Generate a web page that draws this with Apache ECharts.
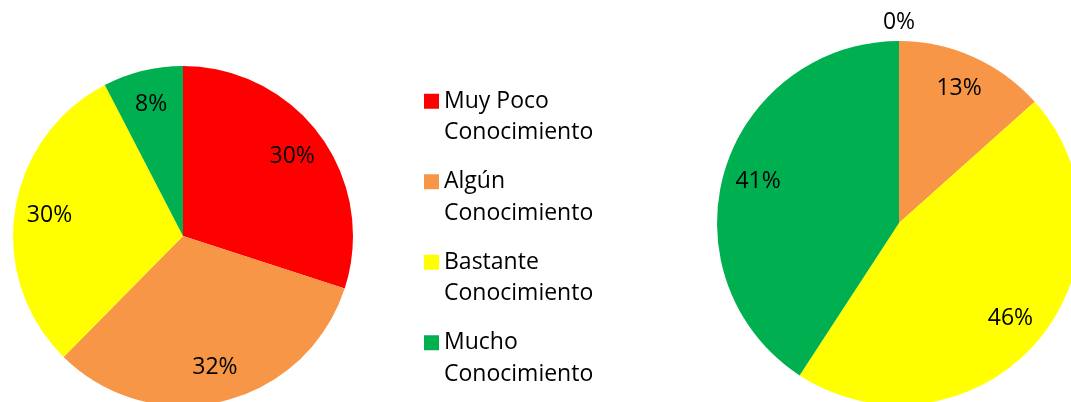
<!DOCTYPE html>
<html>
<head>
<meta charset="utf-8">
<script src="https://cdn.jsdelivr.net/npm/echarts@6/dist/echarts.min.js"></script>
<style>
html,body{margin:0;padding:0;background:#fff;}
#c{width:1071px;height:402px;}
</style>
</head>
<body>
<div id="c"></div>
<script>
const categories = ['Muy Poco\nConocimiento', 'Algún\nConocimiento', 'Bastante\nConocimiento', 'Mucho\nConocimiento'];
const colors = ['#FF0000', '#F79646', '#FFFF00', '#00B050'];
const leftValues = [30, 32.4, 30, 7.6];
const rightValues = [0, 13.4, 45.8, 40.8];

const FONT = 'Open Sans';
const labelFmt = p => Math.round(p.percent) + '%';

function mainPie(values, center, r) {
  return {
    type: 'pie', center: center, radius: r, startAngle: 90, clockwise: true,
    silent: true, label: { show: false }, labelLine: { show: false },
    itemStyle: { borderWidth: 0 },
    data: categories.map((n, i) => ({ name: n, value: values[i], itemStyle: { color: colors[i] } }))
  };
}
function labelPie(values, center, r0, r, zeroOffset) {
  return {
    type: 'pie', center: center, radius: [r0, r], startAngle: 90, clockwise: true,
    silent: true, avoidLabelOverlap: false,
    itemStyle: { color: 'rgba(0,0,0,0)', borderWidth: 0 },
    label: { show: true, position: 'inside', formatter: labelFmt, color: '#000', fontFamily: FONT, fontSize: 23 },
    labelLine: { show: false },
    data: categories.map((n, i) => {
      const d = { name: n, value: values[i] };
      if (values[i] === 0) d.label = { offset: zeroOffset };
      return d;
    })
  };
}

const chart = echarts.init(document.getElementById('c'), null, { renderer: 'canvas' });
chart.setOption({
  animation: false,
  color: colors,
  legend: {
    orient: 'vertical', left: 424, top: 54, padding: 0,
    itemWidth: 15, itemHeight: 15, itemGap: -14,
    icon: 'rect', selectedMode: false,
    data: categories,
    formatter: name => ' \n' + name,
    textStyle: { fontFamily: FONT, fontSize: 23, color: '#000', lineHeight: 31.5 }
  },
  series: [
    mainPie(leftValues, [183, 236], 170),
    mainPie(rightValues, [899, 223], 182),
    labelPie(leftValues, [183, 236], 94, 170, [0, 0]),
    labelPie(rightValues, [899, 223], 106, 182, [0, -54])
  ]
});
</script>
</body>
</html>
